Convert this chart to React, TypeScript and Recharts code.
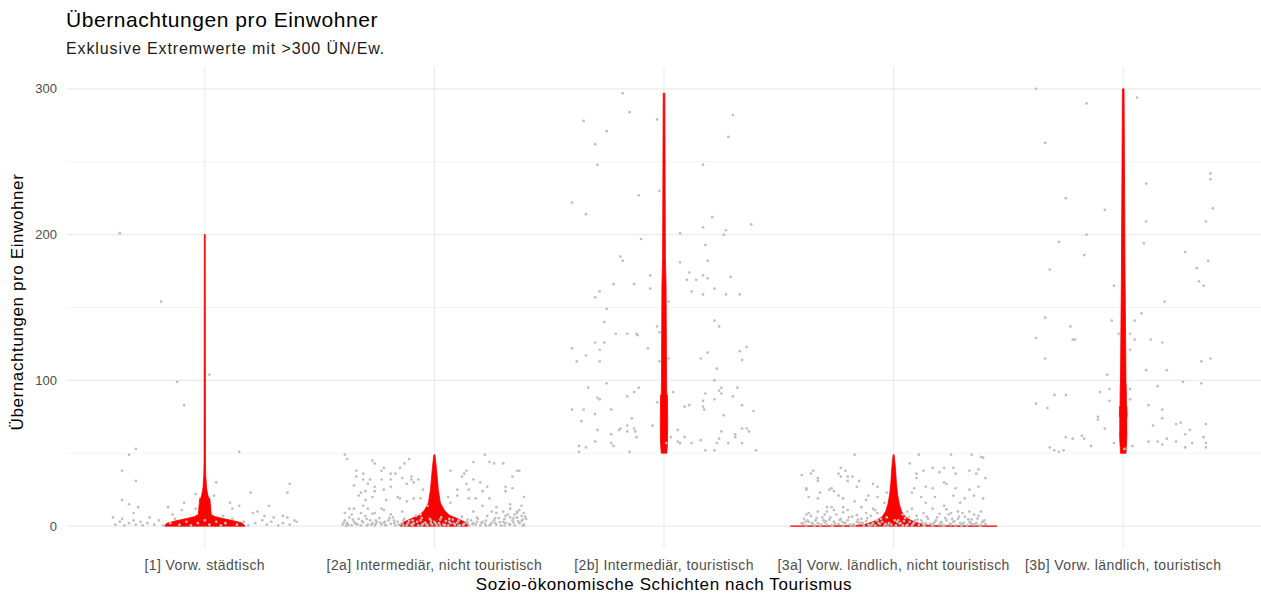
import React from "react";
import {
  Area,
  CartesianGrid,
  ComposedChart,
  Scatter,
  XAxis,
  YAxis,
} from "recharts";

// Kategorien (x = 1..5) und Achsenticks
const categories = [
  "[1] Vorw. städtisch",
  "[2a] Intermediär, nicht touristisch",
  "[2b] Intermediär, touristisch",
  "[3a] Vorw. ländlich, nicht touristisch",
  "[3b] Vorw. ländlich, touristisch",
];
const yTicks = [0, 100, 200, 300];
const yMinor = [50, 150, 250];

// Einzelwerte je Schicht: [Jitter-Versatz, ÜN/Ew.]
const pointsUrban: [number, number][] = [
  [-0.37, 201], [-0.19, 154], [0.02, 104], [-0.12, 99], [-0.09, 83], [0.15, 51], [-0.3, 53],
  [-0.33, 49], [-0.36, 38], [-0.3, 31], [0.05, 30], [0.37, 29], [0.36, 23], [0.2, 23],
  [-0.04, 22], [0.04, 21], [-0.36, 18], [-0.33, 15], [-0.29, 13], [-0.16, 13], [-0.1, 11],
  [-0.09, 16], [-0.04, 12], [0.11, 16], [0.12, 12], [0.15, 14], [0.28, 14], [0.23, 10],
  [0.21, 9], [-0.31, 9], [-0.4, 6], [-0.36, 5], [0.3, 6], [0.34, 7], [0.39, 4], [0.36, 6],
  [-0.39, 1], [-0.37, 3], [-0.35, 0.5], [-0.33, 2], [-0.31, 4], [-0.3, 1], [-0.28, 3],
  [-0.27, 0.5], [-0.25, 2], [-0.22, 1], [-0.2, 4], [-0.18, 0.5], [-0.15, 2], [-0.13, 5],
  [-0.11, 1], [-0.08, 3], [-0.06, 0.5], [-0.03, 2], [0, 4], [0.02, 1], [0.05, 3], [0.07, 0.5],
  [0.09, 2], [0.12, 5], [0.14, 1], [0.17, 3], [0.19, 0.5], [0.22, 2], [0.25, 4], [0.27, 1],
  [0.29, 3], [0.32, 0.5], [0.34, 2], [0.37, 1], [0.4, 3], [-0.24, 6], [0.26, 7], [-0.14, 8],
  [0.08, 7],
];

const pointsInterNon: [number, number][] = [
  [-0.39, 49], [-0.38, 46], [-0.27, 45], [-0.26, 43], [-0.22, 40], [-0.11, 46], [-0.13, 43],
  [-0.15, 40], [-0.34, 38], [-0.31, 36], [-0.34, 34], [-0.23, 38], [-0.19, 36], [-0.17, 36],
  [-0.28, 32], [-0.31, 32], [-0.23, 32], [-0.19, 32], [-0.14, 33], [-0.1, 34], [-0.1, 32],
  [-0.07, 32], [-0.35, 28], [-0.29, 29], [-0.26, 27], [-0.19, 27], [-0.12, 29], [-0.09, 30],
  [-0.32, 23], [-0.3, 24], [-0.26, 24], [-0.22, 25], [-0.05, 25], [-0.33, 21], [-0.27, 20],
  [-0.16, 20], [-0.15, 19], [-0.09, 19], [-0.06, 19], [-0.3, 18], [-0.21, 18], [-0.12, 17],
  [-0.31, 14], [-0.03, 14], [-0.35, 12], [-0.37, 12], [-0.29, 12], [-0.23, 12], [-0.22, 11],
  [-0.14, 10], [-0.39, 9], [-0.32, 9], [-0.26, 9], [-0.19, 8],
  [0.22, 49], [0.24, 44], [0.26, 43], [0.17, 44], [0.3, 43], [0.07, 38], [0.14, 38], [0.13, 36],
  [0.12, 34], [0.36, 38], [0.37, 38], [0.34, 34], [0.17, 32], [0.2, 30], [0.14, 29], [0.23, 27],
  [0.31, 27], [0.34, 26], [0.1, 25], [0.15, 25], [0.21, 24], [0.31, 24], [0.06, 20], [0.15, 19],
  [0.1, 21], [0.18, 19], [0.24, 19], [0.39, 20], [0.07, 16], [0.21, 14], [0.27, 13], [0.33, 15],
  [0.38, 14], [0.17, 10], [0.25, 10], [0.36, 10],
  [-0.4, 1], [-0.39, 4], [-0.38, 2], [-0.37, 6], [-0.36, 0.5], [-0.35, 3], [-0.34, 1.5],
  [-0.33, 5], [-0.32, 0.5], [-0.31, 2.5], [-0.3, 7], [-0.29, 1], [-0.28, 4], [-0.27, 2],
  [-0.26, 0.5], [-0.25, 3], [-0.24, 5.5], [-0.23, 1], [-0.22, 2.5], [-0.21, 0.5], [-0.2, 4],
  [-0.19, 1.5], [-0.18, 6], [-0.17, 0.5], [-0.16, 3], [-0.15, 1], [-0.14, 2], [-0.13, 5],
  [-0.12, 0.5], [-0.11, 3.5], [-0.1, 1], [-0.09, 2], [-0.08, 7], [-0.07, 0.5], [-0.06, 4],
  [-0.05, 1.5], [-0.04, 2.5], [-0.03, 0.5], [-0.02, 5], [-0.01, 1], [0, 3], [0.01, 0.5],
  [0.02, 2], [0.03, 6], [0.04, 1], [0.05, 3.5], [0.06, 0.5], [0.07, 2], [0.08, 4.5], [0.09, 1],
  [0.1, 2.5], [0.11, 0.5], [0.12, 6.5], [0.13, 1.5], [0.14, 3], [0.15, 0.5], [0.16, 4],
  [0.17, 2], [0.18, 1], [0.19, 5], [0.2, 0.5], [0.21, 3], [0.22, 1.5], [0.23, 7], [0.24, 0.5],
  [0.25, 2.5], [0.26, 4], [0.27, 1], [0.28, 5.5], [0.29, 0.5], [0.3, 3], [0.31, 2], [0.32, 8],
  [0.33, 1], [0.34, 4], [0.35, 0.5], [0.36, 6], [0.37, 2], [0.38, 3.5], [0.39, 1], [0.4, 5],
  [-0.385, 0.3], [-0.345, 2], [-0.295, 0.3], [-0.255, 1.5], [-0.215, 3], [-0.175, 2],
  [-0.135, 0.3], [-0.095, 4], [-0.055, 0.3], [-0.015, 2], [0.025, 0.3], [0.065, 3],
  [0.105, 0.3], [0.145, 2], [0.185, 3], [0.225, 0.3], [0.265, 2], [0.305, 0.3], [0.345, 2.5],
  [0.385, 0.3], [0.33, 6], [0.36, 9], [0.3, 10], [0.38, 7],
  [-0.395, 2.5], [-0.375, 0.8], [-0.355, 4.5], [-0.335, 1.2], [-0.315, 3.5], [-0.295, 5],
  [-0.275, 0.8], [-0.255, 3.8], [-0.235, 2.2], [-0.215, 0.8], [-0.195, 5.5], [-0.175, 3.8],
  [-0.155, 0.8], [-0.135, 4], [-0.115, 2], [-0.095, 0.8], [-0.075, 3], [-0.055, 5.5],
  [-0.035, 1.2], [-0.015, 3.8], [0.005, 1.8], [0.025, 4.5], [0.045, 0.8], [0.065, 5],
  [0.085, 1.8], [0.105, 3.8], [0.125, 0.8], [0.145, 4.5], [0.165, 1.2], [0.185, 5.8],
  [0.205, 2.2], [0.225, 3.8], [0.245, 1.2], [0.265, 5.5], [0.285, 2.8], [0.305, 4.8],
  [0.325, 1.5], [0.345, 5.5], [0.365, 3.2], [0.385, 4.5], [0.395, 6.5], [0.35, 8], [0.31, 7],
  [0.27, 9], [0.39, 9], [0.37, 11], [0.33, 12], [-0.36, 8], [-0.27, 8.5], [-0.06, 8],
];

const pointsInterTour: [number, number][] = [
  [-0.18, 297], [-0.15, 284], [-0.35, 278], [-0.03, 279], [-0.25, 271], [-0.3, 262], [-0.29, 248],
  [0.3, 282], [0.28, 267], [0.17, 248], [-0.11, 227], [-0.02, 230], [-0.4, 222], [-0.34, 214],
  [0.21, 212], [0.38, 207], [0.17, 205], [0.27, 203], [0.26, 200], [0.07, 201], [-0.1, 197],
  [0.18, 193], [-0.19, 185], [-0.18, 182], [0.07, 181], [0.19, 182], [0.11, 174], [-0.06, 172],
  [0.17, 172], [0.1, 169], [0.14, 169], [0.19, 170], [0.29, 171], [-0.22, 166], [-0.13, 166],
  [-0.06, 163], [0.22, 163], [0.12, 161], [0.17, 159], [0.27, 159], [0.33, 159], [-0.28, 161],
  [-0.3, 157], [0.02, 154], [-0.25, 149], [-0.26, 140], [0.22, 141], [0.24, 137], [-0.03, 137],
  [-0.21, 132], [-0.16, 132], [-0.12, 132], [-0.115, 131], [-0.02, 133], [-0.3, 126], [-0.26, 126],
  [-0.4, 122], [-0.28, 121], [-0.07, 122], [0.36, 123], [0.33, 120], [0.19, 119], [-0.34, 117],
  [0.16, 115], [-0.38, 113], [-0.28, 113], [-0.02, 113], [0.02, 115], [0.34, 114], [0.23, 108],
  [0.22, 100], [-0.25, 98], [-0.33, 95], [0.25, 95], [0.32, 95], [-0.11, 95], [-0.13, 92],
  [0.04, 92], [0.24, 93], [0.18, 91], [-0.29, 88], [-0.28, 87], [-0.16, 89], [0.3, 89], [0.25, 91],
  [-0.03, 85], [0.22, 87], [0.17, 86], [-0.4, 80], [-0.35, 80], [-0.23, 80], [-0.3, 77], [0.09, 82],
  [0.11, 83], [0.17, 82], [0.175, 80], [0.34, 83], [0.39, 79], [0.26, 76], [-0.36, 72], [-0.14, 74],
  [-0.05, 69], [-0.29, 66], [-0.19, 67], [-0.195, 66], [-0.16, 69], [-0.13, 67], [-0.125, 65],
  [-0.16, 65], [-0.23, 63], [-0.12, 61], [0.06, 66], [0.34, 67], [0.36, 67], [0.37, 65], [0.25, 65],
  [0.31, 63], [0.31, 61], [0.24, 60], [0.03, 61], [0.09, 61], [-0.3, 58], [-0.23, 57], [-0.22, 55],
  [-0.37, 55], [-0.34, 54], [-0.37, 51], [-0.15, 51], [0.06, 58], [0.07, 57], [0.12, 57], [0.16, 59],
  [0.23, 57], [0.28, 57], [0.34, 57], [0.18, 52], [0.22, 52], [0.4, 52], [0.01, 57],
];

const pointsRuralNon: [number, number][] = [
  [-0.17, 49], [-0.4, 35], [-0.36, 36], [-0.35, 38], [-0.23, 40], [-0.21, 38], [-0.24, 36],
  [-0.23, 34], [-0.33, 33], [-0.33, 31], [-0.2, 34], [-0.18, 34], [-0.2, 31], [-0.15, 31],
  [-0.38, 26], [-0.38, 25], [-0.27, 26], [-0.26, 24], [-0.28, 25], [-0.32, 23], [-0.09, 29],
  [-0.07, 27], [-0.03, 23], [-0.16, 27], [-0.24, 21], [-0.11, 21], [-0.07, 20], [-0.37, 20],
  [-0.33, 19], [-0.22, 19], [-0.17, 17], [-0.12, 18], [-0.04, 16], [-0.29, 13], [-0.27, 13],
  [-0.22, 13], [-0.14, 13], [-0.09, 12], [-0.38, 8], [-0.33, 10], [-0.2, 11], [-0.07, 9],
  [0.11, 49], [0.25, 49], [0.34, 49], [0.39, 47], [0.38, 47.5], [0.07, 43], [0.22, 40], [0.26, 40],
  [0.17, 40], [0.33, 38], [0.37, 39], [0.13, 38], [0.1, 36], [0.2, 37], [0.27, 36], [0.36, 36],
  [0.1, 33], [0.22, 30], [0.23, 29], [0.4, 33], [0.09, 26], [0.14, 27], [0.17, 26], [0.27, 26],
  [0.33, 25], [0.37, 27], [0.08, 23], [0.12, 20], [0.18, 20], [0.26, 21], [0.31, 19], [0.35, 21],
  [0.39, 19], [0.14, 16], [0.22, 14], [0.29, 16], [0.17, 12], [0.33, 10], [0.25, 9],
  [-0.4, 2], [-0.39, 5], [-0.38, 0.5], [-0.37, 3], [-0.36, 7], [-0.35, 1], [-0.34, 4],
  [-0.33, 2], [-0.32, 0.5], [-0.31, 6], [-0.3, 2.5], [-0.29, 1], [-0.28, 4.5], [-0.27, 0.5],
  [-0.26, 3], [-0.25, 8], [-0.24, 1.5], [-0.23, 5], [-0.22, 0.5], [-0.21, 2], [-0.2, 4],
  [-0.19, 1], [-0.18, 6.5], [-0.17, 0.5], [-0.16, 3], [-0.15, 2], [-0.14, 5], [-0.13, 0.5],
  [-0.12, 3.5], [-0.11, 1], [-0.1, 7], [-0.09, 2], [-0.08, 0.5], [-0.07, 4], [-0.06, 1.5],
  [-0.05, 3], [-0.04, 0.5], [-0.03, 6], [-0.02, 2], [-0.01, 1], [0.01, 0.5], [0.02, 4],
  [0.03, 2], [0.04, 0.5], [0.05, 5.5], [0.06, 1], [0.07, 3], [0.08, 0.5], [0.09, 2.5],
  [0.1, 7], [0.11, 1], [0.12, 4], [0.13, 0.5], [0.14, 2], [0.15, 5], [0.16, 1.5], [0.17, 0.5],
  [0.18, 3], [0.19, 6], [0.2, 1], [0.21, 2.5], [0.22, 0.5], [0.23, 4], [0.24, 8], [0.25, 1],
  [0.26, 3], [0.27, 0.5], [0.28, 5], [0.29, 2], [0.3, 1], [0.31, 6.5], [0.32, 0.5], [0.33, 3],
  [0.34, 4.5], [0.35, 1], [0.36, 2], [0.37, 7], [0.38, 0.5], [0.39, 3.5], [0.4, 1.5],
  [-0.385, 3], [-0.345, 0.3], [-0.305, 4], [-0.265, 0.3], [-0.225, 3], [-0.185, 0.3],
  [-0.145, 2.5], [-0.105, 0.3], [-0.065, 2], [-0.025, 0.3], [0.015, 3], [0.055, 0.3],
  [0.095, 4], [0.135, 0.3], [0.175, 2], [0.215, 0.3], [0.255, 5], [0.295, 0.3], [0.335, 2],
  [0.375, 0.3], [-0.29, 10], [-0.12, 9], [0.06, 10], [0.3, 9],
  [-0.395, 1.5], [-0.375, 4], [-0.355, 2], [-0.335, 5.5], [-0.315, 1], [-0.295, 3.5],
  [-0.275, 6], [-0.255, 1.8], [-0.235, 4.2], [-0.215, 2.5], [-0.195, 6], [-0.175, 1.2],
  [-0.155, 4.5], [-0.135, 2.2], [-0.115, 5.5], [-0.095, 1], [-0.075, 3.8], [-0.055, 5],
  [-0.035, 1.5], [0.005, 4], [0.025, 1.8], [0.045, 3.5], [0.065, 6], [0.085, 1.5], [0.105, 4.5],
  [0.125, 2.5], [0.145, 6.5], [0.165, 1.2], [0.185, 4], [0.205, 2.8], [0.225, 5.5], [0.245, 1.5],
  [0.265, 3.5], [0.285, 6.5], [0.305, 2.2], [0.325, 4.8], [0.345, 1.2], [0.365, 5.2],
  [0.385, 2.5], [0.395, 4], [-0.37, 9], [-0.3, 8], [-0.22, 9.5], [-0.16, 7.5], [-0.08, 11],
  [0.04, 8], [0.13, 9], [0.2, 8.5], [0.28, 10], [0.35, 8], [-0.26, 11], [0.08, 12], [0.23, 11.5],
  [0.38, 10],
];

const pointsRuralTour: [number, number][] = [
  [-0.38, 300], [-0.16, 290], [0.06, 294], [-0.34, 263], [0.38, 242], [0.38, 238], [0.1, 235],
  [0.39, 218], [-0.25, 225], [-0.08, 217], [0.1, 209], [0.36, 209], [-0.16, 200], [-0.28, 195],
  [0.09, 194], [-0.17, 186], [0.27, 188], [0.37, 182], [-0.32, 176], [0.32, 177], [0.33, 168],
  [0.35, 165], [-0.04, 165], [0.18, 154], [0.08, 146], [-0.34, 143], [-0.05, 141], [0.05, 141],
  [-0.23, 137], [-0.02, 132], [0.03, 132], [0.05, 128], [-0.38, 129], [-0.22, 128], [-0.21, 128],
  [0.12, 128], [0.17, 126], [0.03, 121], [-0.34, 115], [0.34, 113], [0.38, 115], [0.1, 107],
  [0.19, 107], [-0.07, 104], [0.26, 99], [0.34, 98], [0.15, 96], [-0.1, 92], [-0.06, 94],
  [0.03, 94], [-0.3, 90], [-0.25, 90], [-0.06, 86], [0.03, 87], [-0.38, 84], [-0.33, 81],
  [0.11, 83], [0.17, 80], [0.17, 74], [-0.11, 75], [-0.11, 73], [0.23, 70], [0.25, 71],
  [0.36, 70], [0.13, 69], [-0.08, 67], [0.29, 66], [0.27, 63], [-0.25, 61], [-0.22, 60],
  [-0.18, 62], [-0.17, 60], [0.19, 60], [0.35, 61], [0.11, 58], [0.15, 58], [0.23, 58],
  [0.36, 57], [-0.04, 57], [0.17, 56], [0.3, 57], [-0.14, 55], [0.04, 55], [-0.32, 54],
  [-0.3, 52], [-0.26, 52], [-0.28, 51], [0.27, 54], [0.36, 54], [0.005, 53],
];

// Violinen-Profile: [ÜN/Ew., halbe Breite in Kategorie-Einheiten]
const violinUrban: [number, number][] = [
  [0, 0.175], [2, 0.165], [3.5, 0.13], [5, 0.085], [6.5, 0.045], [8, 0.028], [10, 0.02],
  [12, 0.018], [16, 0.02], [19, 0.022], [21, 0.014], [24, 0.01], [27, 0.007], [31, 0.006],
  [35, 0.004], [45, 0.003], [60, 0.002], [200, 0.002],
];
const violinInterNon: [number, number][] = [
  [0, 0.15], [1, 0.15], [3, 0.13], [5.5, 0.095], [7.5, 0.065], [11, 0.043], [16, 0.026],
  [25, 0.017], [36, 0.011], [44, 0.006], [49, 0.002],
];
const violinInterTour: [number, number][] = [
  [50, 0.012], [57, 0.015], [70, 0.016], [90, 0.015], [100, 0.011], [120, 0.009],
  [165, 0.009], [185, 0.006], [200, 0.0035], [297, 0.0035],
];
const violinRuralNon: [number, number][] = [
  [0, 0.45], [0.3, 0.18], [1, 0.13], [2.5, 0.1], [4, 0.075], [6.5, 0.05], [10, 0.035],
  [15, 0.025], [22, 0.017], [30, 0.012], [40, 0.008], [49, 0.002],
];
const violinRuralTour: [number, number][] = [
  [50, 0.012], [55, 0.014], [64, 0.017], [75, 0.017], [82, 0.016], [97, 0.013], [110, 0.01],
  [137, 0.01], [140, 0.008], [170, 0.008], [175, 0.0035], [300, 0.0035],
];

const pointGroups = [pointsUrban, pointsInterNon, pointsInterTour, pointsRuralNon, pointsRuralTour];
const violins = [violinUrban, violinInterNon, violinInterTour, violinRuralNon, violinRuralTour];

const scatterData = pointGroups.flatMap((group, i) =>
  group.map(([off, value]) => ({ x: i + 1 + off, y: value })),
);

// Jede Breite w eines Profils wird zu einem Bereich [min, max] der Werte mit Breite >= w,
// so lässt sich die Violine als Bereichsfläche über x zeichnen.
function violinRows(center: number, key: string, profile: [number, number][]) {
  const rows: Record<string, unknown>[] = [];
  profile.forEach(([, w]) => {
    const inside = profile.filter(([, w2]) => w2 >= w).map(([v]) => v);
    const range = [Math.min(...inside), Math.max(...inside)];
    rows.push({ x: center - w, [key]: range });
    rows.push({ x: center + w, [key]: range });
  });
  return rows;
}

const violinData = violins
  .flatMap((profile, i) => violinRows(i + 1, `v${i + 1}`, profile))
  .sort((a, b) => (a.x as number) - (b.x as number));

const font = '"Liberation Sans", Arial, sans-serif';
const red = "#ff0000";

function Dot(props: { cx?: number; cy?: number }) {
  if (props.cx == null || props.cy == null) return null;
  return <circle cx={props.cx} cy={props.cy} r={1.35} fill="#bebebe" />;
}

export default function App() {
  return (
    <div
      style={{
        position: "absolute",
        left: 0,
        top: 0,
        width: 1261,
        height: 594,
        background: "#ffffff",
        fontFamily: font,
      }}
    >
      <div
        style={{
          position: "absolute",
          left: 66,
          top: 9,
          fontSize: 21,
          letterSpacing: 0.55,
          lineHeight: 1,
          color: "#000",
          whiteSpace: "nowrap",
        }}
      >
        Übernachtungen pro Einwohner
      </div>
      <div
        style={{
          position: "absolute",
          left: 66,
          top: 41,
          fontSize: 16,
          letterSpacing: 0.9,
          lineHeight: 1,
          color: "#1a1a1a",
          whiteSpace: "nowrap",
        }}
      >
        Exklusive Extremwerte mit &gt;300 ÜN/Ew.
      </div>
      <div
        style={{
          position: "absolute",
          left: 17,
          top: 302,
          transform: "translate(-50%, -50%) rotate(-90deg)",
          whiteSpace: "nowrap",
          fontSize: 17,
          letterSpacing: 0.6,
          lineHeight: 1,
          color: "#000",
        }}
      >
        Übernachtungen pro Einwohner
      </div>
      <div
        style={{
          position: "absolute",
          left: 664,
          top: 576,
          transform: "translateX(-50%)",
          whiteSpace: "nowrap",
          fontSize: 17,
          letterSpacing: 0.6,
          lineHeight: 1,
          color: "#000",
        }}
      >
        Sozio-ökonomische Schichten nach Tourismus
      </div>
      <ComposedChart
        width={1261}
        height={594}
        data={violinData}
        margin={{ top: 67, right: 0, bottom: 0, left: 0 }}
      >
        <CartesianGrid
          horizontalValues={yMinor}
          vertical={false}
          stroke="#ebebeb"
          strokeWidth={0.6}
        />
        <CartesianGrid
          horizontalValues={yTicks}
          verticalValues={[1, 2, 3, 4, 5]}
          stroke="#ebebeb"
          strokeWidth={1.1}
        />
        <XAxis
          type="number"
          dataKey="x"
          domain={[0.4, 5.6]}
          ticks={[1, 2, 3, 4, 5]}
          interval={0}
          tickFormatter={(v: number) => categories[Math.round(v) - 1]}
          height={46}
          axisLine={false}
          tickLine={false}
          tickSize={0}
          tickMargin={12}
          tick={{ fill: "#4d4d4d", fontSize: 14, letterSpacing: 0.4, fontFamily: font }}
        />
        <YAxis
          type="number"
          dataKey="y"
          domain={[-15, 315]}
          ticks={yTicks}
          width={67}
          axisLine={false}
          tickLine={false}
          tickSize={0}
          tickMargin={10}
          tick={{ fill: "#4d4d4d", fontSize: 13, fontFamily: font }}
        />
        {violins.map((_, i) => (
          <Area
            key={i}
            dataKey={`v${i + 1}`}
            type="linear"
            fill={red}
            fillOpacity={1}
            stroke={red}
            strokeWidth={0.8}
            dot={false}
            activeDot={false}
            connectNulls={false}
            isAnimationActive={false}
          />
        ))}
        <Scatter data={scatterData} shape={<Dot />} isAnimationActive={false} />
      </ComposedChart>
    </div>
  );
}
